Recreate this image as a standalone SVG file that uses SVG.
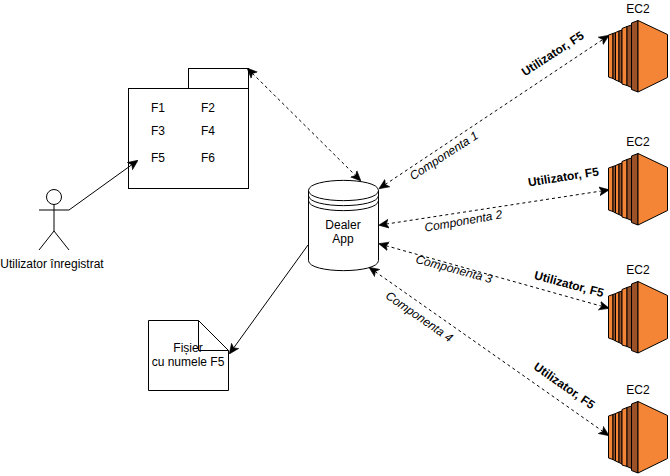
<svg xmlns="http://www.w3.org/2000/svg" width="670" height="476" viewBox="0 0 670 476">
<style>
text{font-family:"Liberation Sans",Arial,sans-serif;font-size:12px;fill:#000;text-anchor:middle}
.s{fill:#fff;stroke:#000;stroke-width:1}
.n{fill:none;stroke:#000;stroke-width:1}
.d{fill:none;stroke:#000;stroke-width:1;stroke-dasharray:3 3}
.b{font-weight:bold}
.i{font-style:italic}
.o{fill:#f58536;stroke:#000;stroke-width:1;stroke-linejoin:round}
.k{fill:#9c5228;stroke:#000;stroke-width:1;stroke-linejoin:round}
</style>
<defs>
<marker id="a" markerWidth="10" markerHeight="10" refX="7" refY="3.5" orient="auto-start-reverse" markerUnits="userSpaceOnUse" viewBox="0 0 8 7"><path d="M0 0L8 3.500L0 7L2 3.500Z" fill="#000" stroke="#000" stroke-width="0.5"/></marker>
<g id="ec2">
<path class="o" d="M608.500 35L613 33.500V78.500L608.500 77Z"/>
<path class="k" d="M613 33.500L615.500 32.500V80L613 78.500Z"/>
<path class="o" d="M615.500 32.500L619 31V81.500L615.500 80Z"/>
<path class="k" d="M619 31L622 30V83L619 81.500Z"/>
<path class="o" d="M622 28.500L627 26.500V85.500L622 84Z"/>
<path class="k" d="M627 26.500L631.500 25V87.500L627 85.500Z"/>
<path class="k" d="M631.500 23L638 20.500V92L631.500 89.500Z"/>
<path class="o" d="M638 20.500L667.500 34.500V77.500L638 92Z"/>
</g>
</defs>
<g id="actor">
<circle class="s" cx="54" cy="197" r="7.500"/>
<path class="n" d="M54 204.500V231M39 210H69M39 250L54 231L69 250"/>
<text x="52" y="268">Utilizator înregistrat</text>
</g>
<g id="package">
<rect class="s" x="188.500" y="68.500" width="60" height="20"/>
<rect class="s" x="128.500" y="88.500" width="120" height="100"/>
<text x="158" y="112">F1</text><text x="208" y="112">F2</text>
<text x="158" y="135">F3</text><text x="208" y="135">F4</text>
<text x="158" y="162">F5</text><text x="208" y="162">F6</text>
</g>
<g id="dealer-app">
<path class="s" d="M308.500 190.500C308.500 177 378.500 177 378.500 190.500V260.500C378.500 274 308.500 274 308.500 260.500Z"/>
<path class="n" d="M308.500 190.500C308.500 204 378.500 204 378.500 190.500M308.500 195.500C308.500 209 378.500 209 378.500 195.500M308.500 200.500C308.500 214 378.500 214 378.500 200.500"/>
<text x="343" y="229">Dealer</text>
<text x="343" y="243">App</text>
</g>
<g id="file">
<path class="s" d="M148.500 320.500H198.500L228.500 350.500V390.500H148.500Z"/>
<path class="n" d="M198.500 320.500V350.500H228.500"/>
<text x="188" y="352">Fișier</text>
<text x="188" y="366">cu numele F5</text>
</g>
<g id="ec2-1"><use href="#ec2"/><text x="638" y="13">EC2</text></g>
<g id="ec2-2"><use href="#ec2" y="133"/><text x="638" y="146">EC2</text></g>
<g id="ec2-3"><use href="#ec2" y="261"/><text x="638" y="274">EC2</text></g>
<g id="ec2-4"><use href="#ec2" y="381"/><text x="638" y="394">EC2</text></g>
<g id="connectors">
<path class="n" d="M69 210L137 161" marker-end="url(#a)"/>
<path class="d" d="M248 69L360 180" marker-start="url(#a)" marker-end="url(#a)"/>
<path class="n" d="M308 245L230 353" marker-end="url(#a)"/>
<path class="d" d="M380 188L608 36" marker-start="url(#a)" marker-end="url(#a)"/>
<path class="d" d="M380 225L608 190" marker-start="url(#a)" marker-end="url(#a)"/>
<path class="d" d="M380 244L608 308" marker-start="url(#a)" marker-end="url(#a)"/>
<path class="d" d="M370 268L608 435" marker-start="url(#a)" marker-end="url(#a)"/>
</g>
<g id="labels">
<text class="b" transform="translate(555 57) rotate(-33)">Utilizator, F5</text>
<text class="b" transform="translate(564 181) rotate(-9)">Utilizator, F5</text>
<text class="b" transform="translate(568 288) rotate(15)">Utilizator, F5</text>
<text class="b" transform="translate(562 389) rotate(35)">Utilizator, F5</text>
<text class="i" transform="translate(446 159) rotate(-33)">Componenta 1</text>
<text class="i" transform="translate(464 225) rotate(-10)">Componenta 2</text>
<text class="i" transform="translate(453 273) rotate(15)">Componenta 3</text>
<text class="i" transform="translate(417 320) rotate(35)">Componenta 4</text>
</g>
</svg>
